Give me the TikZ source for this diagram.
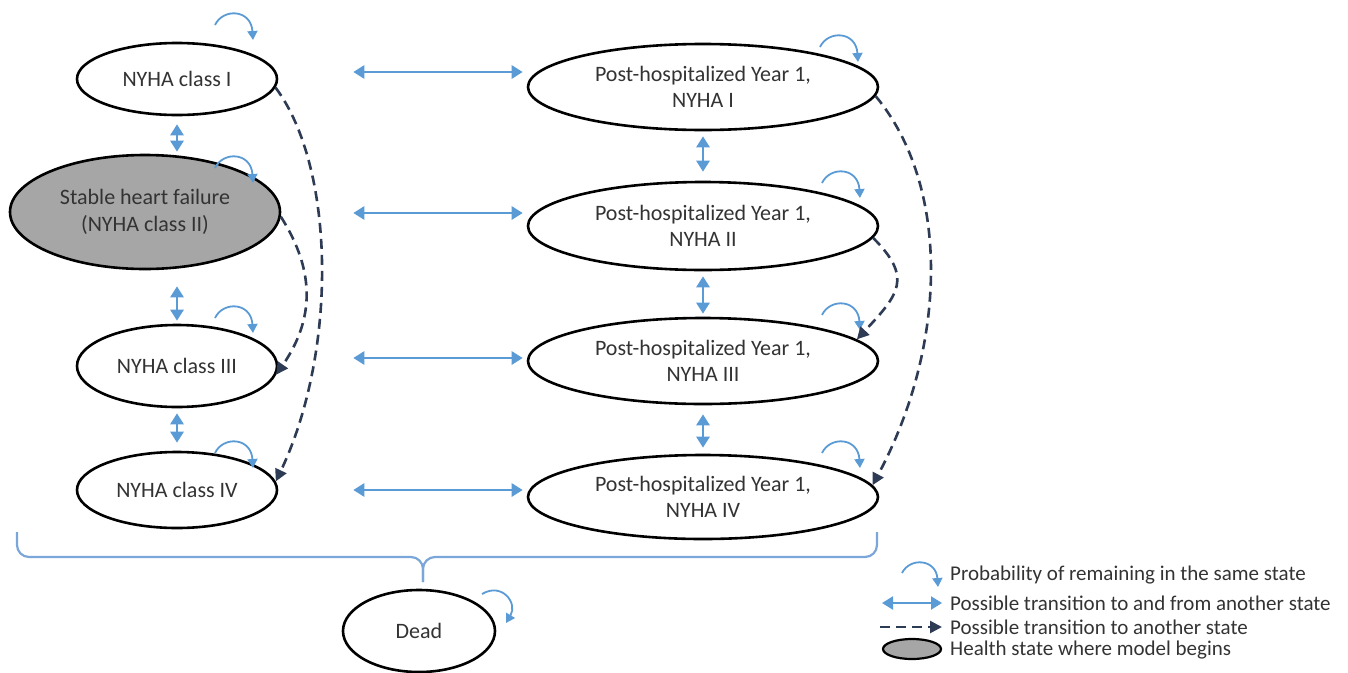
\documentclass[tikz,border=0pt]{standalone}
\usepackage{fontspec}
\setmainfont{Carlito}
\usetikzlibrary{arrows.meta,shapes.geometric,calc}
\definecolor{mblue}{HTML}{5B9BD5}
\definecolor{mbrace}{HTML}{7AA6D9}
\definecolor{mnavy}{HTML}{2E3B55}
\definecolor{mtext}{HTML}{333333}
\definecolor{mgray}{HTML}{A6A6A6}
\newcommand\mloop[3]{\draw[selfl] ([shift={(#2,#3)}]#1.center) .. controls +(8,-17) and +(-2,-31) .. ([shift={(#2+38,#3+15)}]#1.center);}
\begin{document}
\begin{tikzpicture}[x=1pt,y=-1pt,
  state/.style={ellipse, draw=black, line width=2.6pt, fill=white, inner sep=0pt, align=center,
    font=\fontsize{22}{26.5}\selectfont, text=mtext},
  dbl/.style={{Triangle[length=11pt,width=13pt]}-{Triangle[length=11pt,width=13pt]}, line width=2.8pt, draw=mblue},
  dsh/.style={-{Triangle[length=12pt,width=12pt]}, line width=2.6pt, draw=mnavy, dash pattern=on 10pt off 6pt},
  selfl/.style={-{Triangle[length=9pt,width=10pt]}, line width=1.8pt, draw=mblue},
  brc/.style={line width=2.2pt, draw=mbrace, rounded corners=12pt},
  lgd/.style={anchor=west, font=\fontsize{21}{24}\selectfont, text=mtext, inner sep=0pt}]
\useasboundingbox (0,0) rectangle (1348,672);

% left column
\node[state, minimum width=200pt, minimum height=72pt] (I) at (177,79) {NYHA class I};
\node[state, fill=mgray, minimum width=270pt, minimum height=114pt] (S) at (145,212) {Stable heart failure\\(NYHA class II)};
\node[state, minimum width=200pt, minimum height=82pt] (III) at (177,366) {NYHA class III};
\node[state, minimum width=200pt, minimum height=76pt] (IV) at (177,490) {NYHA class IV};
% right column
\node[state, minimum width=350pt, minimum height=86pt] (P1) at (703,87) {Post-hospitalized Year 1,\\NYHA I};
\node[state, minimum width=350pt, minimum height=88pt] (P2) at (703,226) {Post-hospitalized Year 1,\\NYHA II};
\node[state, minimum width=350pt, minimum height=86pt] (P3) at (703,361) {Post-hospitalized Year 1,\\NYHA III};
\node[state, minimum width=350pt, minimum height=84pt] (P4) at (703,497) {Post-hospitalized Year 1,\\NYHA IV};
% dead
\node[state, minimum width=152pt, minimum height=82pt] (D) at (419,631) {Dead};

% horizontal transitions
\draw[dbl] ([shift={(75,-7)}]I.east) -- ([shift={(-4,-15)}]P1.west);
\draw[dbl] ([shift={(72,1)}]S.east) -- ([shift={(-4,-13)}]P2.west);
\draw[dbl] ([shift={(75,-8)}]III.east) -- ([shift={(-4,-3)}]P3.west);
\draw[dbl] ([shift={(75,0)}]IV.east) -- ([shift={(-4,-7)}]P4.west);

% vertical transitions
\draw[dbl, shorten <=8pt, shorten >=2pt] (I.south) -- (I.south |- S.north);
\draw[dbl, shorten <=16pt, shorten >=3pt] (III.north |- S.south) -- (III.north);
\draw[dbl, shorten <=5pt, shorten >=8pt] (III.south) -- (IV.north);
\draw[dbl, shorten <=5pt, shorten >=9pt] (P1.south) -- (P2.north);
\draw[dbl, shorten <=5pt, shorten >=3pt] (P2.south) -- (P3.north);
\draw[dbl, shorten <=9pt, shorten >=6pt] (P3.south) -- (P4.north);

% self loops
\mloop{I}{38}{-54}
\mloop{S}{70}{-44}
\mloop{III}{38}{-48}
\mloop{IV}{38}{-37}
\mloop{P1}{117}{-40}
\mloop{P2}{119}{-43}
\mloop{P3}{119}{-46}
\mloop{P4}{119}{-44}
\draw[selfl] ([shift={(63,-37)}]D.center) .. controls +(20,-12) and +(12,-20) .. ([shift={(87,-8)}]D.center);

% one-way transitions
\draw[dsh] (I.-5) .. controls +(60,80) and +(62,-130) .. (IV.5);
\draw[dsh] (S.-2) .. controls +(35,55) and +(38,-55) .. (III.-5);
\draw[dsh] (P1.-3) .. controls +(75,90) and +(75,-140) .. (P4.4);
\draw[dsh] (P2.-4) .. controls +(40,40) and +(42,-45) .. (P3.8);

% brace to dead
\draw[brc] (17,532) -- (17,557) -- (423,557) -- (423,582);
\draw[brc] (877,532) -- (877,557) -- (423,557) -- (423,582);

% legend
\node[lgd] (L1) at (950,575) {Probability of remaining in the same state};
\node[lgd] (L2) at (950,603) {Possible transition to and from another state};
\node[lgd] (L3) at (950,627) {Possible transition to another state};
\node[lgd] (L4) at (950,650) {Health state where model begins};
\draw[selfl] ([shift={(-48,-2)}]L1.west) .. controls +(8,-16) and +(-2,-28) .. ([shift={(-12,12)}]L1.west);
\draw[dbl, line width=2.2pt] ([shift={(-68,0)}]L2.west) -- ([shift={(-8,0)}]L2.west);
\draw[dsh] ([shift={(-70,0)}]L3.west) -- ([shift={(-8,0)}]L3.west);
\node[ellipse, draw=black, fill=mgray, line width=2.2pt, minimum width=58pt, minimum height=20pt, inner sep=0pt] (L4i) at ([shift={(-38,-1)}]L4.west) {};
\end{tikzpicture}
\end{document}
